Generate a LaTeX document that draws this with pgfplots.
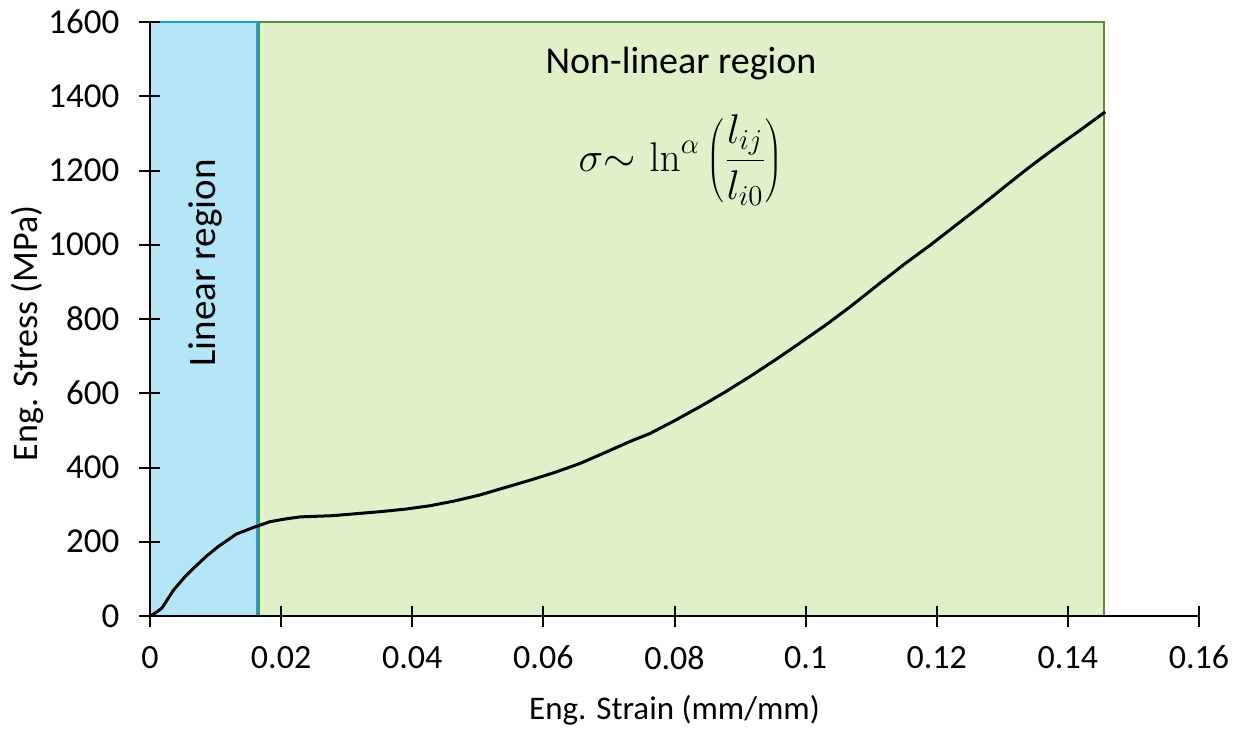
\documentclass[border=0pt]{standalone}
\usepackage{pgfplots}
\pgfplotsset{compat=1.18}
\usepackage[no-math]{fontspec}
\setmainfont{Carlito}
\definecolor{linfill}{HTML}{B4E6F7}
\definecolor{linedge}{HTML}{1AA3DB}
\definecolor{nlfill}{HTML}{E0F0C8}
\definecolor{nledge}{HTML}{5E8C3A}
\begin{document}
\begin{tikzpicture}
\useasboundingbox (-75pt,-56.5pt) rectangle (545pt,308pt);
\begin{axis}[
  scale only axis, width=524.5pt, height=297pt,
  xmin=0, xmax=0.16, ymin=0, ymax=1600,
  axis x line=bottom, axis y line=left,
  axis line style={-, line width=1pt, black},
  axis on top,
  tick align=center, major tick length=10.5pt,
  tick style={line width=1pt, black},
  xtick={0,0.02,0.04,0.06,0.08,0.1,0.12,0.14,0.16},
  xticklabels={0,0.02,0.04,0.06,0.08,0.1,0.12,0.14,0.16},
  ytick={0,200,400,600,800,1000,1200,1400,1600},
  yticklabels={0,200,400,600,800,1000,1200,1400,1600},
  xticklabel style={font=\fontsize{17}{17}\selectfont, yshift=-6.2pt},
  yticklabel style={font=\fontsize{17.5}{17.5}\selectfont, xshift=-6.5pt},
  xlabel={Eng. Strain (mm/mm)},
  ylabel={Eng. Stress (MPa)},
  xlabel style={font=\fontsize{16.5}{16.5}\selectfont, at={(axis description cs:0.5,-0.1582)}, anchor=center},
  ylabel style={font=\fontsize{18}{18}\selectfont, at={(axis description cs:-0.1173,0.476)}, anchor=center},
  clip=false,
]
\addplot[fill=linfill, draw=linedge, line width=1pt] coordinates {(0,0) (0.0163,0) (0.0163,1600) (0,1600) (0,0)};
\addplot[fill=nlfill, draw=nledge, line width=1pt] coordinates {(0.0166,0) (0.1455,0) (0.1455,1600) (0.0166,1600) (0.0166,0)};
\addplot[black, line width=1.5pt, line join=round] coordinates {
(0,0)
(0.0008,8)
(0.0018,21)
(0.0036,70)
(0.0052,103)
(0.0069,133)
(0.0086,161)
(0.0104,187)
(0.0132,221)
(0.016,240)
(0.0183,254)
(0.0205,261)
(0.0229,267)
(0.0275,270)
(0.029,272)
(0.0351,281)
(0.039,288)
(0.0427,297)
(0.0465,310)
(0.0503,326)
(0.058,366)
(0.0618,387)
(0.0656,411)
(0.0686,434)
(0.0732,470)
(0.0763,492)
(0.08,526)
(0.0839,564)
(0.0877,603)
(0.0915,645)
(0.0953,689)
(0.0991,735)
(0.103,783)
(0.1068,833)
(0.1113,896)
(0.115,947)
(0.119,999)
(0.1228,1051)
(0.1266,1103)
(0.1304,1157)
(0.1342,1210)
(0.138,1260)
(0.1419,1309)
(0.1457,1358)
};
\node[font=\fontsize{19}{19}\selectfont] at (axis cs:0.081,1487) {Non-linear region};
\node[font=\fontsize{19.5}{19.5}\selectfont, rotate=90] at (axis cs:0.0085,951) {Linear region};
\node[font=\fontsize{21}{21}\selectfont] at (axis cs:0.081,1228) {$\displaystyle \sigma{\sim}\,\ln^{\alpha}\left(\frac{l_{ij}}{l_{i0}}\right)$};
\end{axis}
\end{tikzpicture}
\end{document}
